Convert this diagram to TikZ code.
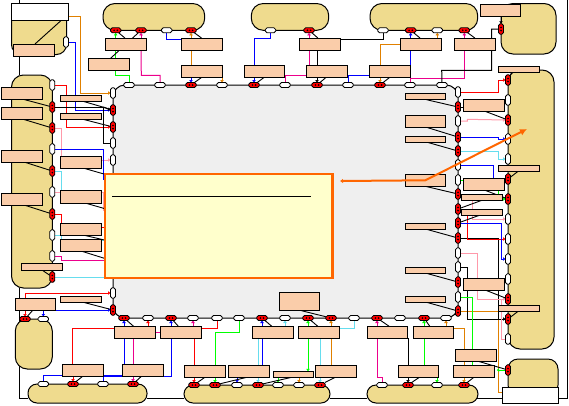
\documentclass[tikz,border=0pt]{standalone}
\usetikzlibrary{calc,arrows.meta}
\definecolor{peach}{HTML}{FACDAA}
\definecolor{blockc}{HTML}{EFDB8E}
\definecolor{greyc}{HTML}{EFEFEF}
\definecolor{notec}{HTML}{FFFFCC}
\definecolor{orgn}{HTML}{FF6600}
\definecolor{oc}{HTML}{E08000}
\definecolor{cc}{HTML}{66DDEE}
\definecolor{pc}{HTML}{FF99AA}
\definecolor{gc}{HTML}{00FF00}
\pgfdeclarelayer{bg}\pgfdeclarelayer{ln}\pgfdeclarelayer{top}
\pgfsetlayers{bg,ln,main,top}
\tikzset{
 peachbox/.style={draw=black,line width=1pt,fill=peach,inner sep=0,outer sep=0},
 pinbase/.style={draw=black,line width=.8pt,inner sep=0,outer sep=0,rounded corners=1.8pt},
 pw/.style={pinbase,fill=white,minimum width=10.5pt,minimum height=5pt},
 pwv/.style={pinbase,fill=white,minimum width=5pt,minimum height=10.5pt},
 pr/.style={pinbase,fill=red,minimum width=10.5pt,minimum height=5pt,
   path picture={\fill[black] (path picture bounding box.center) +(-1.6,0) circle (.9) +(1.6,0) circle (.9);}},
 prv/.style={pinbase,fill=red,minimum width=5pt,minimum height=10.5pt,
   path picture={\fill[black] (path picture bounding box.center) +(0,-1.6) circle (.9) +(0,1.6) circle (.9);}},
 blk/.style={draw=black,line width=1pt},
 blu/.style={draw=blue,line width=1pt},
 gre/.style={draw=gc,line width=1pt},
 mag/.style={draw=magenta,line width=1pt},
 org/.style={draw=oc,line width=1pt},
 rd/.style={draw=red,line width=1pt},
 cy/.style={draw=cc,line width=1pt},
 pk/.style={draw=pc,line width=1pt},
 tip/.style={-{Latex[length=2.5pt,width=4pt]}},
 rtip/.style={{Latex[length=2.5pt,width=4pt]}-},
 ld/.style={draw=black,line width=.9pt},
 blockd/.style={draw=black,line width=1pt,fill=blockc},
}
\newcommand\pb[5]{\pgfmathsetmacro\bw{#4-#2}\pgfmathsetmacro\bh{#5-#3}%
 \node[peachbox,minimum width=\bw pt,minimum height=\bh pt] (#1) at ({(#2+#4)/2},{(#3+#5)/2}) {};}
\newcommand\Tf[2]{($(#1.north west)!#2!(#1.north east)$)}
\newcommand\Bf[2]{($(#1.south west)!#2!(#1.south east)$)}
\newcommand\Lf[2]{($(#1.north west)!#2!(#1.south west)$)}
\newcommand\Rf[2]{($(#1.north east)!#2!(#1.south east)$)}
\newcommand\ldS[3]{\draw[ld] (#1) -- ($(#2.south west)!#3!(#2.south east)$);}
\newcommand\ldN[3]{\draw[ld] (#1) -- ($(#2.north west)!#3!(#2.north east)$);}
\begin{document}
\begin{tikzpicture}[x=1pt,y=-1pt]
\useasboundingbox (0,0) rectangle (569,405);
% pins
\foreach \n/\x/\s in {a1/115.7/pr,a2/141/pr,a3/166.7/pw,a4/191/pr,b1/270.5/pw,b2/309/pr,c1/383/pw,c2/410.7/pr,c3/437.3/pw,c4/464.3/pr}
  \node[\s] (\n) at (\x,30.3) {};
\foreach \n/\x/\s in {t1/129/pw,t2/160/pw,t3/191/pr,t4/222/pw,t5/254/pr,t6/285/pw,t7/317/pr,t8/348/pw,t9/380/pr,t10/410/pw,t11/442/pw}
  \node[\s] (\n) at (\x,85) {};
\foreach \n/\y/\s in {l1/93/pwv,l2/110/prv,l3/127/prv,l4/143/pwv,l5/160/pwv,l6/293/pwv,l7/310/prv}
  \node[\s] (\n) at (113,\y) {};
\foreach \n/\y/\s in {r1/92/pwv,r2/107/prv,r3/121/pwv,r4/137/prv,r5/151/prv,r6/165/pwv,r7/180/pwv,r8/194/prv,r9/209/prv,r10/223/prv,r11/238/prv,r12/253/pwv,r13/267/pwv,r14/282/prv,r15/297/pwv,r16/311/prv}
  \node[\s] (\n) at (458,\y) {};
\foreach \n/\x/\s in {u1/124/pr,u2/148/pw,u3/171/pr,u4/193/pw,u5/217/pw,u6/239/pw,u7/262/pr,u8/285/pw,u9/308/pr,u10/331/pr,u11/354/pw,u12/377/pr,u13/400/pw,u14/424/pr,u15/446/pw}
  \node[\s] (\n) at (\x,318) {};
\foreach \n/\y/\s in {e1/85/pwv,e2/107/prv,e3/128/prv,e4/149/pwv,e5/171/prv,e6/192/pwv,e7/214/prv,e8/235/pwv,e9/256/pwv,e10/277/prv}
  \node[\s] (\n) at (52.3,\y) {};
\foreach \n/\y/\s in {q1/80/prv,q2/100/pwv,q3/120/prv,q4/139/pwv,q5/159/pwv,q6/179/prv,q7/199/prv,q8/219/pwv,q9/239/pwv,q10/259/pwv,q11/279/pwv,q12/299/prv,q13/319/prv,q14/339/pwv,q15/370/prv}
  \node[\s] (\n) at (508,\y) {};
\foreach \n/\x/\s in {v1/43.3/pw,v2/73/pr,v3/103/pw,v4/133/pr}
  \node[\s] (\n) at (\x,384) {};
\foreach \n/\x/\s in {w1/194/pr,w2/215/pr,w3/237/pw,w4/258/pr,w5/278/pw,w6/299/pw,w7/320/pr,x1/382/pw,x2/408/pr,x3/437/pw,x4/464/pr}
  \node[\s] (\n) at (\x,385) {};
\node[pwv] (f) at (66,42) {};
\node[prv] (d1) at (501,29) {};
\node[pr] (s1) at (25,319) {};
\node[pw] (s2) at (43.3,319) {};
% boxes
\pb{bTL}{13}{44}{54.5}{56}
\pb{bL1}{1.5}{87.5}{42.5}{99.5}
\pb{bL2}{1.5}{107.5}{42.5}{119.5}
\pb{bL3}{1.5}{150}{42.5}{162}
\pb{bL4}{1.5}{193}{42.5}{205}
\pb{bL5}{21.5}{263.5}{62.5}{270}
\pb{iL1}{60.5}{95.3}{101.5}{101.3}
\pb{iL2}{60.5}{113.3}{101.5}{119.3}
\pb{iL3}{60.5}{156}{101.5}{168}
\pb{iL4}{60.5}{190}{101.5}{203}
\pb{iL5}{60.5}{223}{101.5}{235}
\pb{iL6}{60.5}{239}{101.5}{251}
\pb{iL7}{60.5}{296}{101.5}{302}
\pb{bA1}{105}{38}{146.5}{50.5}
\pb{bA2}{88}{58.7}{129}{70.7}
\pb{bA3}{181}{38}{222}{50.5}
\pb{bT1}{181}{65}{222}{77.5}
\pb{bT2}{244}{65}{284.7}{77.5}
\pb{bB1}{299}{38}{340}{50.5}
\pb{bT3}{306}{65}{347.5}{77.5}
\pb{bT4}{369}{65}{410}{77.5}
\pb{bC1}{400}{38}{441.7}{50.5}
\pb{bC2}{454}{38}{495.7}{50.5}
\pb{bD}{480}{4.3}{520}{16.7}
\pb{bQ1}{498}{66}{539}{72.7}
\pb{bQ2}{498}{165}{539}{171}
\pb{bQ3}{498}{305}{539}{311}
\pb{m1}{463}{99.3}{504.7}{111.3}
\pb{m2}{463}{178.3}{504.7}{190.3}
\pb{m3}{461}{194.3}{502.7}{200.3}
\pb{m4}{461}{209.3}{502.7}{215.3}
\pb{m5}{463}{278.3}{504.7}{290.3}
\pb{m6}{455}{349.3}{496.7}{361.3}
\pb{iR1}{405}{93.3}{445.7}{99.7}
\pb{iR2}{405}{115.3}{445.7}{127.3}
\pb{iR3}{405}{136}{445.7}{142.3}
\pb{iR4}{405}{174.3}{445.7}{186.3}
\pb{iR5}{405}{223.3}{445.7}{229.3}
\pb{iR6}{405}{267}{445.7}{273}
\pb{iR7}{405}{296.3}{445.7}{302.3}
\pb{n1}{114}{326.3}{155.7}{338.3}
\pb{n2}{160}{326.3}{201.7}{338.3}
\pb{n3}{252}{326.3}{293.3}{338.3}
\pb{n4}{298}{326.3}{339.3}{338.3}
\pb{n5}{367}{326.3}{407.3}{338.3}
\pb{n6}{413}{326.3}{453}{338.3}
\pb{o1}{62}{364.3}{103.3}{376.3}
\pb{o2}{122}{364.3}{163.3}{376.3}
\pb{o3}{184.3}{365.3}{225.3}{377.3}
\pb{o4}{228}{365.3}{269.7}{377.3}
\pb{o5}{273}{371.3}{313.7}{377.3}
\pb{o6}{315}{365.3}{356.3}{377.3}
\pb{o7}{398}{365.3}{438.3}{377.3}
\pb{o8}{453}{365.3}{494.7}{377.3}
\pb{bS}{15}{298}{55}{310}
\pb{bCC}{279.3}{292.3}{319.7}{310.7}
\node[draw=black,line width=1pt,fill=white,minimum width=57pt,minimum height=16.5pt,inner sep=0,outer sep=0] (hTL) at (40,11.75) {};
\node[draw=black,line width=1pt,fill=white,minimum width=56pt,minimum height=16pt,inner sep=0,outer sep=0] (hBR) at (530,395) {};
\coordinate (hTLo) at (68.5,16.5);
\coordinate (rbw) at (502,392.3);
\coordinate (hl1) at (113,176.6);
\coordinate (hl2) at (113,211);
\coordinate (hl3) at (113,242);
\coordinate (hl4) at (113,261);
% background shapes
\begin{pgfonlayer}{bg}
\draw[line width=1pt] (19.5,0) -- (19.5,75);
\draw[line width=1pt] (19.5,288) -- (19.5,398) -- (28,398);
\draw[line width=1pt] (147,398) -- (184,398);
\draw[line width=1pt] (330,398) -- (367,398);
\draw[line width=1pt] (477,398) -- (502,398);
\draw[line width=1pt] (558,398) -- (567.5,398) -- (567.5,0);
\draw[blockd] (11.5,20) -- (66.5,20) [rounded corners=10pt] -- (66.5,54.5) -- (11.5,54.5) [sharp corners] -- cycle;
\draw[blockd,rounded corners=12pt] (11.5,75) rectangle (52.3,288);
\draw[blockd,rounded corners=12pt] (103,3.5) rectangle (204.7,30.3);
\draw[blockd,rounded corners=12pt] (251.3,3.5) rectangle (328.7,30.3);
\draw[blockd,rounded corners=12pt] (370,3.5) rectangle (477.7,30.3);
\draw[blockd,rounded corners=12pt] (501,3.5) rectangle (556,54);
\draw[blockd,rounded corners=12pt] (508,70) rectangle (554,349);
\draw[blockd,rounded corners=10pt] (508,359) rectangle (558,395);
\draw[blockd,rounded corners=12pt] (15.3,319) rectangle (52.3,369);
\draw[blockd,rounded corners=9pt] (28,384) rectangle (147,403);
\draw[blockd,rounded corners=9pt] (184,385) rectangle (330,403);
\draw[blockd,rounded corners=9pt] (367,385) rectangle (478,403);
\draw[blockd,fill=greyc,rounded corners=12pt] (113,85) rectangle (458,318);
\end{pgfonlayer}
% connectors
\begin{pgfonlayer}{ln}
\foreach \p/\b/\c in {a1/bA1/gre,a2/bA1/mag,a4/bA3/org,b2/bB1/mag,c2/bC1/blu,c3/bC1/org,c4/bC2/mag,
  u1/n1/blu,u2/n1/rd,u3/n2/blu,u4/n2/mag,u7/n3/blu,u8/n3/cy,u9/n4/gre,u10/n4/org,u12/n5/mag,u14/n6/gre,u15/n6/org}
  \draw[\c,rtip] (\p.south) -- (\p|-\b.north);
\foreach \p/\b/\c in {t3/bT1/blu,t4/bT1/org,t5/bT2/blu,t7/bT3/blk,t9/bT4/org,
  v2/o1/rd,v4/o2/mag,w1/o3/rd,w2/o3/gre,w3/o4/blu,w4/o4/cy,w5/o5/gre,w6/o5/org,w7/o6/cy,x2/o7/blk,x3/o7/gre,x4/o8/org,s1/bS/rd,s2/bS/blu}
  \draw[\c,rtip] (\p.north) -- (\p|-\b.south);
\draw[blk,rtip] (d1.north) -- (d1|-bD.south);
% vertical links
\draw[gre] (a1|-bA1.south) -- (115.7,75.3) -| (t1.north);
\draw[mag] (a2|-bA1.south) -- (141.3,75.3) -| (t2.north);
\draw[blu] (a3.south) |- \Lf{bA3}{.1};
\draw[org] (a4|-bA3.south) -- (a4|-bT1.north);
\draw[blu] (b1.south) |- (t5|-bB1.north) -- (t5|-bT2.north);
\draw[mag] (b2|-bB1.south) |- \Rf{bT2}{.83} -| (t6.north);
\draw[blk] (t7|-bB1.south) -- (t7|-bT3.north);
\draw[blk] \Rf{bB1}{.1} -| (c1.south);
\draw[blu] \Rf{bT3}{.83} -- \Lf{bT4}{.83};
\draw[blu] \Rf{bT3}{.83} -| (t8.north);
\draw[org] (bC1.west) -| (t9|-bT4.north);
\draw[blu] (c2|-bC1.south) -- (c2|-bT4.north);
\draw[mag] (c4|-bC2.south) -- (464.3,78.3) -| (t10.north);
\draw[blk] (d1.west) -| (491.7,70.3) -- (441.7,70.3) -- (t11.north);
% left side
\draw[org,tip] (hTLo) -| (80.3,93) -- (l1.west);
\draw[blu,tip] (f.east) -| (75.3,110) -- (l2.west);
\draw[rd,tip] (e1.east) -| (66.3,127) -- (l3.west);
\draw[blk] (e2.east) -- (103.3,107) |- (l4.west);
\draw[blk,tip] (103.3,107) -- (l2.west);
\draw[pk,tip] (e3.east) -| (61.3,160) -- (l5.west);
\draw[blu] (e4.east) -| (103.3,180);
\draw[cy] (e5.east) -| (61.3,192) -- (110,192);
\draw[pk] (e6.east) -- (103,192) -- (103,210) -- (110,210);
\draw[rd] (e7.east) -| (61.3,227.3) -- (110,227.3);
\draw[cy] (e8.east) -| (61.3,240) -- (110,240);
\draw[mag] (e9.east) -| (61.3,260.3) -- (110,260.3);
\draw[cy] (e10.east) -- (110,277);
\draw[rd,tip] \Tf{bS}{.26} |- (l6.west);
\draw[blu,tip] (s2.north) |- (l7.west);
% bottom
\draw[rd] \Lf{n1}{.17} -| \Tf{o1}{.26};
\draw[blu] (u1|-n1.south) -- (u1|-o2.north);
\draw[mag] (v4|-o2.north) -- (v4|-n1.south);
\draw[mag] (n1.east) -- (n2.west);
\draw[blu] (u3|-n2.south) -- (u3|-o2.south) -- (v3|-o2.south) -- (v3.north);
\draw[blu] (v1.north) |- \Lf{o2}{.92};
\draw[rd] (u5.south) |- \Rf{n2}{.2};
\draw[rd] (w1|-n2.south) -- (w1|-o3.north);
\draw[gre] (u6.south) |- (w2|-n2.east) -- (w2|-o3.north);
\draw[cy] (w4|-n3.south) -- (w4|-o4.north);
\draw[blu] (u7|-n3.south) -- (u7|-o4.north);
\draw[gre,tip] (u9|-n4.south) -- (u9|-o5.north);
\draw[cy] (w7|-n4.south) -- (w7|-o6.north);
\draw[org] (u10|-n4.south) -- (u10|-o6.north);
\draw[cy] (u11.south) |- \Rf{n4}{.2};
\draw[mag] (u12|-n5.south) -- (u12|-o7.south) -- (x1|-o7.south) -- (x1.north);
\draw[blk] (x2|-n5.south) -- (x2|-o7.north);
\draw[gre] (u14|-n6.south) -- (u14|-o7.north);
\draw[org] \Rf{n6}{.17} -| (x4|-o8.north);
% right side
\draw[org] (r16.east) -- (bQ3.west|-r16);
\draw[org] (bQ3.south west) |- (rbw);
\draw[blk,tip] (r11.east) -- (bQ3.west|-r11) -- (bQ3.west|-q13) -- (q13.west);
\draw[blk] (r13.east) -| (467.3,319) -- (q13.west);
\draw[rd,tip] \Bf{m4}{.15} |- (q9.west);
\draw[blu,tip] (r10.east) -- (501.3,223) |- (q10.west);
\draw[pk] \Bf{m3}{.28} -- \Tf{m4}{.28};
\draw[pk,tip] \Bf{m4}{.28} |- (q8.west);
\draw[pk] (r12.east) -| (477.7,299) -- (501.7,299) -- (501.7,339) -- (q14.west);
\draw[pk,tip] (477.7,299) -- (q12.west);
\draw[gre] (r15.east) -| \Tf{o8}{.46};
\draw[gre] (r7.east) -- (m2.west|-r7);
\draw[gre,tip] \Bf{m2}{.85} |- (q7.west);
\draw[blu] (r6.east) -| \Tf{m2}{.73};
\draw[cy,tip] (r5.east) -| (498.3,159) -- (q5.west);
\draw[blu,tip] (r4.east) -| (498.3,139) -- (q4.west);
\draw[pk,tip] (r3.east) -- (467.3,121) -- (467.3,119.3) -- (q3.west);
\draw[rd,tip] (r1.east) -| (498.7,80) -- (q1.west);
\draw[blk] (r2.east) -- (m1.west|-r2);
\draw[gre,tip] (q15.west) -- (m6.south east|-q15);
% leaders
\draw[ld] \Tf{bTL}{.53} -- \Bf{hTL}{.88};
\ldS{e2}{bL1}{.55}\ldS{e3}{bL2}{.55}\ldS{e5}{bL3}{.55}\ldS{e7}{bL4}{.55}\ldS{e10}{bL5}{.5}
\ldS{l2}{iL1}{.55}\ldS{l3}{iL2}{.55}\ldS{hl1}{iL3}{.55}\ldS{hl2}{iL4}{.6}\ldS{hl3}{iL5}{.55}\ldS{hl4}{iL6}{.5}\ldS{l7}{iL7}{.53}
\ldN{a1}{bA1}{.48}\ldN{a2}{bA2}{.54}\ldN{a4}{bA3}{.5}\ldN{b2}{bB1}{.46}\ldN{c2}{bC1}{.48}\ldN{c4}{bC2}{.5}
\ldS{t3}{bT1}{.5}\ldS{t5}{bT2}{.49}\ldS{t7}{bT3}{.48}\ldS{t9}{bT4}{.5}
\ldS{r2}{iR1}{.53}\ldS{r4}{iR2}{.53}\ldS{r5}{iR3}{.55}\ldS{r8}{iR4}{.5}\ldS{r11}{iR5}{.53}\ldS{r14}{iR6}{.5}\ldS{r16}{iR7}{.53}
\ldS{q3}{m1}{.53}\ldS{q7}{m2}{.53}\ldS{r9}{m3}{.5}\ldS{r10}{m4}{.44}\ldS{q12}{m5}{.55}\ldS{q15}{m6}{.56}
\ldS{q1}{bQ1}{.33}\ldS{q6}{bQ2}{.5}\ldS{q13}{bQ3}{.5}
\ldS{u10}{bCC}{.55}
\ldN{u1}{n1}{.47}\ldN{u3}{n2}{.44}\ldN{u7}{n3}{.48}\ldN{u9}{n4}{.48}\ldN{u12}{n5}{.55}\ldN{u14}{n6}{.42}
\ldS{v2}{o1}{.5}\ldS{v4}{o2}{.47}\ldS{w1}{o3}{.5}\ldS{w2}{o4}{.45}\ldS{w4}{o5}{.46}\ldS{w7}{o6}{.49}\ldS{x2}{o7}{.53}\ldS{x4}{o8}{.5}
\ldS{s1}{bS}{.45}
\end{pgfonlayer}
% note and arrow
\begin{pgfonlayer}{top}
\node[draw=orgn,line width=2.2pt,fill=notec,minimum width=227.5pt,minimum height=104.5pt,inner sep=0,outer sep=0] (note) at (218.7,226) {};
\coordinate (ruleL) at (112,196);
\coordinate (ruleR) at (310.7,196);
\draw[line width=1pt] (ruleL) -- (ruleR);
\coordinate (arrL) at (340,181);
\coordinate (arrR) at (527,129);
\draw[draw=orgn,line width=2pt,{Latex[length=3pt,width=4.5pt]}-{Latex[length=7pt,width=7pt]}] (arrL) -- (iR4.center) -- (arrR);
\end{pgfonlayer}
\end{tikzpicture}
\end{document}
